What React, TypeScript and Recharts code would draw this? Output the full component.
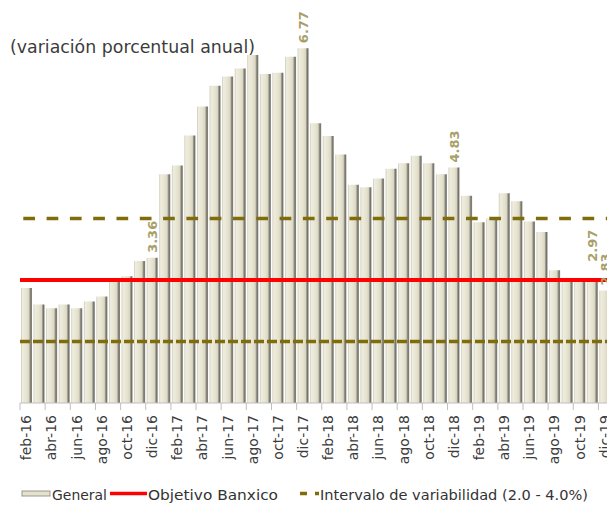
import React from 'react';
import { BarChart, Bar, XAxis, YAxis, ReferenceLine, LabelList, Legend } from 'recharts';

// ---- data ----
const months = [
  'feb-16', 'mar-16', 'abr-16', 'may-16', 'jun-16', 'jul-16', 'ago-16', 'sep-16', 'oct-16', 'nov-16', 'dic-16',
  'ene-17', 'feb-17', 'mar-17', 'abr-17', 'may-17', 'jun-17', 'jul-17', 'ago-17', 'sep-17', 'oct-17', 'nov-17', 'dic-17',
  'ene-18', 'feb-18', 'mar-18', 'abr-18', 'may-18', 'jun-18', 'jul-18', 'ago-18', 'sep-18', 'oct-18', 'nov-18', 'dic-18',
  'ene-19', 'feb-19', 'mar-19', 'abr-19', 'may-19', 'jun-19', 'jul-19', 'ago-19', 'sep-19', 'oct-19', 'nov-19', 'dic-19',
];
const general = [
  2.87, 2.60, 2.54, 2.60, 2.54, 2.65, 2.73, 2.97, 3.06, 3.31, 3.36,
  4.72, 4.86, 5.35, 5.82, 6.16, 6.31, 6.44, 6.66, 6.35, 6.37, 6.63, 6.77,
  5.55, 5.34, 5.04, 4.55, 4.51, 4.65, 4.81, 4.90, 5.02, 4.90, 4.72, 4.83,
  4.37, 3.94, 4.00, 4.41, 4.28, 3.95, 3.78, 3.16, 3.00, 3.02, 2.97, 2.83,
];
const labeledMonths = ['dic-16', 'dic-17', 'dic-18', 'nov-19', 'dic-19'];
const objetivoBanxico = 3.0;
const intervaloBajo = 2.0;
const intervaloAlto = 4.0;
const yDomain: [number, number] = [1, 7];

const titleText = '(variación porcentual anual)';
const legendGeneral = 'General';
const legendObjetivo = 'Objetivo Banxico';
const legendIntervalo = 'Intervalo de variabilidad (2.0 - 4.0%)';

const data = months.map((m, i) => ({
  m,
  v: general[i],
  lbl: labeledMonths.includes(m) ? general[i] : undefined,
}));

const FONT = 'DejaVu Sans';
const OLIVE = '#7f6c0a';
const RED = '#ff0000';

const labelLift: Record<string, number> = { 'nov-19': 20 };

const Tick = (props: any) => {
  const { x, y, payload } = props;
  const half = payload && typeof payload.offset === 'number' ? payload.offset : 6.29;
  const ty = y + 4;
  return (
    <g>
      <line x1={x - half} x2={x - half} y1={y - 8} y2={y - 1} stroke="#bfbfbf" strokeWidth={1} />
      <text
        x={x}
        y={ty}
        transform={`rotate(-90 ${x} ${ty})`}
        textAnchor="end"
        dy="0.36em"
        fontSize={14}
        fontFamily={FONT}
        fill="#3c3c3c"
      >
        {payload.value}
      </text>
    </g>
  );
};

const renderLabel = (props: any) => {
  const { x, y, width, value, index } = props;
  if (value === undefined || value === null) return null;
  const m = months[index] ?? '';
  const lift = labelLift[m] ?? 5;
  const cx = Number(x) + Number(width) / 2;
  const ty = Number(y) - lift;
  return (
    <text
      x={cx}
      y={ty}
      transform={`rotate(-90 ${cx} ${ty})`}
      textAnchor="start"
      dy="0.36em"
      fontSize={13}
      fontWeight="bold"
      fontFamily={FONT}
      fill="#a8a06a"
    >
      {Number(value).toFixed(2)}
    </text>
  );
};

const LegendContent = () => (
  <svg width={607} height={24} style={{ display: 'block', overflow: 'visible' }}>
    <rect x={22} y={9} width={28} height={5} fill="#e4e1cd" stroke="#9a988c" strokeWidth={1} />
    <text x={52} y={18} fontSize={14.5} fontFamily={FONT} fill="#333" textLength={55} lengthAdjust="spacingAndGlyphs">
      {legendGeneral}
    </text>
    <line x1={110} x2={147} y1={11.5} y2={11.5} stroke={RED} strokeWidth={3.5} />
    <text x={148} y={18} fontSize={14.5} fontFamily={FONT} fill="#333" textLength={130} lengthAdjust="spacingAndGlyphs">
      {legendObjetivo}
    </text>
    <line x1={300} x2={319} y1={11.5} y2={11.5} stroke={OLIVE} strokeWidth={3.5} strokeDasharray="7 8 4" />
    <text x={320} y={18} fontSize={14.5} fontFamily={FONT} fill="#333" textLength={268} lengthAdjust="spacingAndGlyphs">
      {legendIntervalo}
    </text>
  </svg>
);

export default function App() {
  return (
    <div
      style={{
        position: 'fixed',
        left: 0,
        top: 0,
        width: 607,
        height: 506,
        overflow: 'hidden',
        background: '#ffffff',
      }}
    >
      <BarChart
        width={621}
        height={506}
        data={data}
        margin={{ top: 34, right: 10, bottom: 43, left: 20 }}
        barCategoryGap={1}
      >
        <defs>
          <linearGradient id="barGrad" x1="0" y1="0" x2="1" y2="0">
            <stop offset="0%" stopColor="#c8c5b2" />
            <stop offset="12%" stopColor="#efeddf" />
            <stop offset="50%" stopColor="#e6e3d0" />
            <stop offset="72%" stopColor="#d9d6c2" />
            <stop offset="80%" stopColor="#a3a195" />
            <stop offset="90%" stopColor="#74726a" />
            <stop offset="100%" stopColor="#8e8c82" />
          </linearGradient>
        </defs>
        <XAxis
          dataKey="m"
          interval={1}
          tickLine={false}
          axisLine={{ stroke: '#bfbfbf' }}
          height={60}
          tick={<Tick />}
        />
        <YAxis hide type="number" domain={yDomain} />
        <Bar dataKey="v" name={legendGeneral} fill="url(#barGrad)" isAnimationActive={false}>
          <LabelList dataKey="lbl" content={renderLabel} />
        </Bar>
        <ReferenceLine y={intervaloBajo} stroke={OLIVE} strokeWidth={3.5} strokeDasharray="10 3" />
        <ReferenceLine y={intervaloAlto} stroke={OLIVE} strokeWidth={3.5} strokeDasharray="11.7 11.6" strokeDashoffset={20} />
        <ReferenceLine y={objetivoBanxico} stroke={RED} strokeWidth={4} />
        <Legend
          content={<LegendContent />}
          wrapperStyle={{ position: 'absolute', top: 482, left: 0, width: 607, height: 0, overflow: 'visible' }}
        />
      </BarChart>
      <svg
        width={607}
        height={70}
        style={{ position: 'absolute', left: 0, top: 0, pointerEvents: 'none' }}
      >
        <text x={10} y={53} fontSize={17} fontFamily={FONT} fill="#3c3c3c" textLength={245} lengthAdjust="spacingAndGlyphs">
          {titleText}
        </text>
      </svg>
    </div>
  );
}
